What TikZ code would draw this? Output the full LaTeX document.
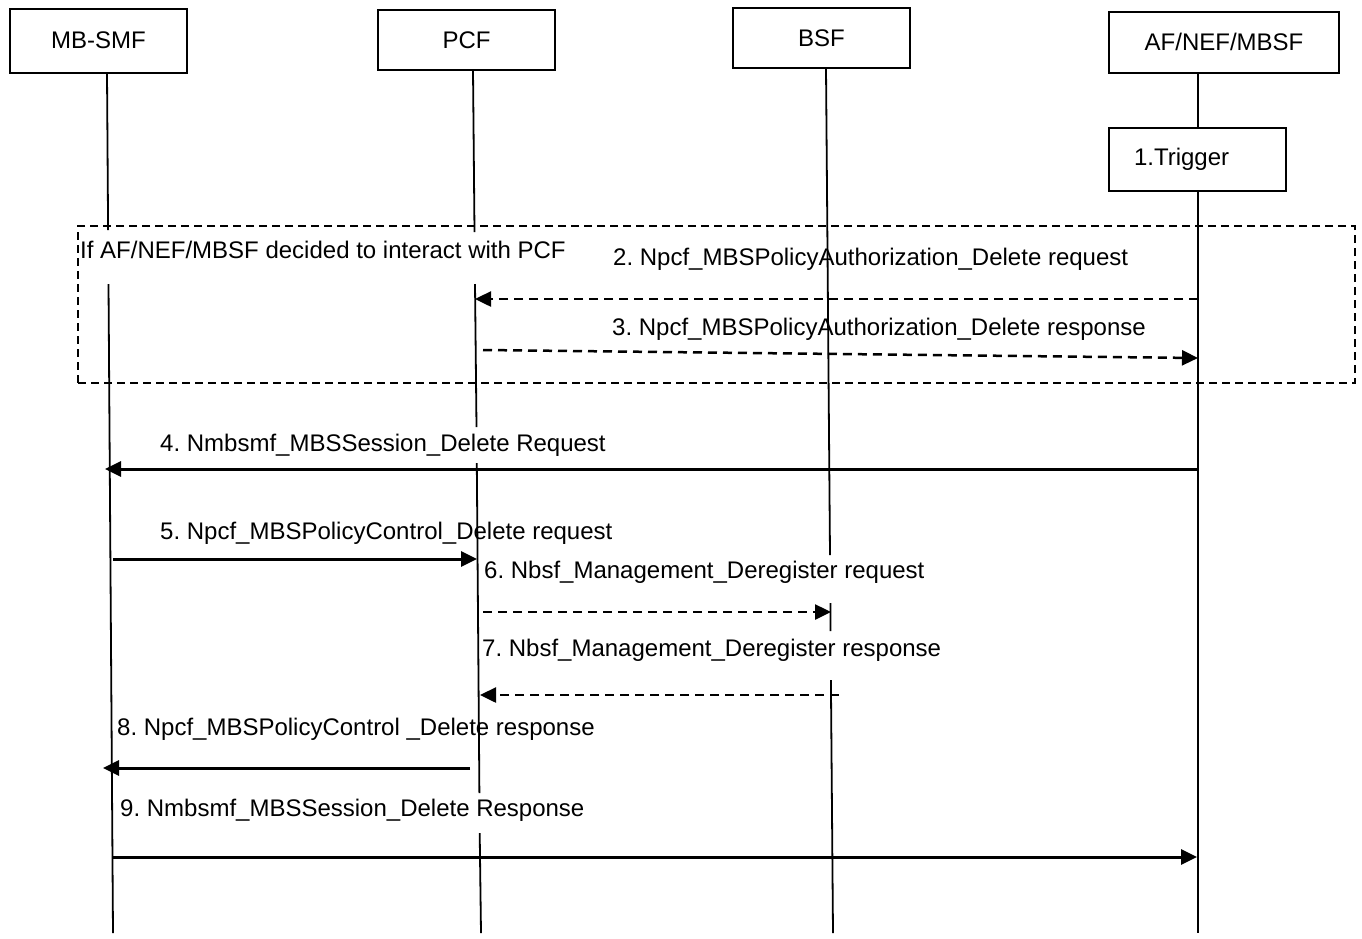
\documentclass[tikz,border=0pt]{standalone}
\usepackage{fontspec}
\setmainfont{Liberation Sans}
\usetikzlibrary{arrows.meta}
\frenchspacing
\begin{document}
\begin{tikzpicture}[x=1pt,y=-1pt,
  box/.style={draw, line width=1.8pt, font=\fontsize{24}{28}\selectfont, inner sep=0pt},
  life/.style={line width=1.8pt},
  msg/.style={line width=3pt, -{Triangle[length=16pt,width=15pt]}},
  dmsg/.style={msg, line width=2.5pt, dash pattern=on 9pt off 6pt},
  grpbox/.style={draw, line width=2.5pt, dash pattern=on 8pt off 5pt, inner sep=0pt},
  lbl/.style={anchor=base west, inner sep=0pt, font=\fontsize{24}{28}\selectfont}]
\useasboundingbox (0,0) rectangle (1362,938);

% participants
\node[box, minimum width=177pt, minimum height=64pt, text depth=2pt] (smf) at (98.5,41) {MB-SMF};
\node[box, minimum width=177pt, minimum height=60pt] (pcf) at (466.5,40) {PCF};
\node[box, minimum width=177pt, minimum height=60pt] (bsf) at (821.5,38) {BSF};
\node[box, minimum width=230pt, minimum height=61pt, text depth=2pt] (af) at (1224,42.5) {AF/NEF/MBSF};
\node[box, minimum width=177pt, minimum height=63pt, text width=127pt, inner xsep=25pt, align=left] (trig) at (1197.5,159.5) {1.Trigger};

% lifeline coordinates
\coordinate (smfT) at (107,73);
\coordinate (smfG1) at (108.1,230);
\coordinate (smfG2) at (108.5,284);
\coordinate (smfB) at (113,933);

\coordinate (pcfT) at (473,70);
\coordinate (pcfG1) at (474.5,232);
\coordinate (pcfG2) at (475,284);
\coordinate (pcfG3) at (476.5,427);
\coordinate (pcfG4) at (476.8,463);
\coordinate (pcfG5) at (479.4,793);
\coordinate (pcfG6) at (479.7,833);
\coordinate (pcfB) at (481,933);

\coordinate (bsfT) at (826,68);
\coordinate (bsfG1) at (830,555);
\coordinate (bsfG2) at (830.4,603);
\coordinate (bsfG3) at (830.5,631);
\coordinate (bsfG4) at (830.9,680);
\coordinate (bsfB) at (833,933);

\coordinate (afT) at (1198,73);
\coordinate (afB) at (1198,933);

% lifelines
\draw[life] (smfT) -- (smfG1);
\draw[life] (smfG2) -- (smfB);
\draw[life] (pcfT) -- (pcfG1);
\draw[life] (pcfG2) -- (pcfG3);
\draw[life] (pcfG4) -- (pcfG5);
\draw[life] (pcfG6) -- (pcfB);
\draw[life] (bsfT) -- (bsfG1);
\draw[life] (bsfG2) -- (bsfG3);
\draw[life] (bsfG4) -- (bsfB);
\draw[life] (afT) -- (trig.north -| afT);
\draw[life] (trig.south -| afT) -- (afB);

% conditional group
\node[grpbox, minimum width=1277pt, minimum height=157pt] (grp) at (716.5,304.5) {};
\node[lbl] (cond) at (80,258.5) {If AF/NEF/MBSF decided to interact with PCF};

% message end points
\coordinate (m2s) at (1198,299);   \coordinate (m2e) at (475,299);
\coordinate (m3s) at (483,350);    \coordinate (m3e) at (1198,358);
\coordinate (m4s) at (1198,469);   \coordinate (m4e) at (105,469);
\coordinate (m5s) at (113,559);    \coordinate (m5e) at (477,559);
\coordinate (m6s) at (483,612);    \coordinate (m6e) at (831,612);
\coordinate (m7s) at (839,695);    \coordinate (m7e) at (480,695);
\coordinate (m8s) at (470,768);    \coordinate (m8e) at (103,768);
\coordinate (m9s) at (113,857);    \coordinate (m9e) at (1197,857);

% labels
\node[lbl] (l2) at (613,265.5) {2. Npcf\_MBSPolicyAuthorization\_Delete request};
\node[lbl] (l3) at (612,335.5) {3. Npcf\_MBSPolicyAuthorization\_Delete response};
\node[lbl] (l4) at (160,451.5) {4. Nmbsmf\_MBSSession\_Delete Request};
\node[lbl] (l5) at (160,539.5) {5. Npcf\_MBSPolicyControl\_Delete request};
\node[lbl] (l6) at (484,578.5) {6. Nbsf\_Management\_Deregister request};
\node[lbl] (l7) at (482,656.5) {7. Nbsf\_Management\_Deregister response};
\node[lbl] (l8) at (117,735.5) {8. Npcf\_MBSPolicyControl \_Delete response};
\node[lbl] (l9) at (120,816.5) {9. Nmbsmf\_MBSSession\_Delete Response};

% messages
\draw[dmsg] (m2s) -- (m2e);
\draw[dmsg] (m3s) -- (m3e);
\draw[msg] (m4s) -- (m4e);
\draw[msg] (m5s) -- (m5e);
\draw[dmsg] (m6s) -- (m6e);
\draw[dmsg] (m7s) -- (m7e);
\draw[msg] (m8s) -- (m8e);
\draw[msg] (m9s) -- (m9e);
\end{tikzpicture}
\end{document}
